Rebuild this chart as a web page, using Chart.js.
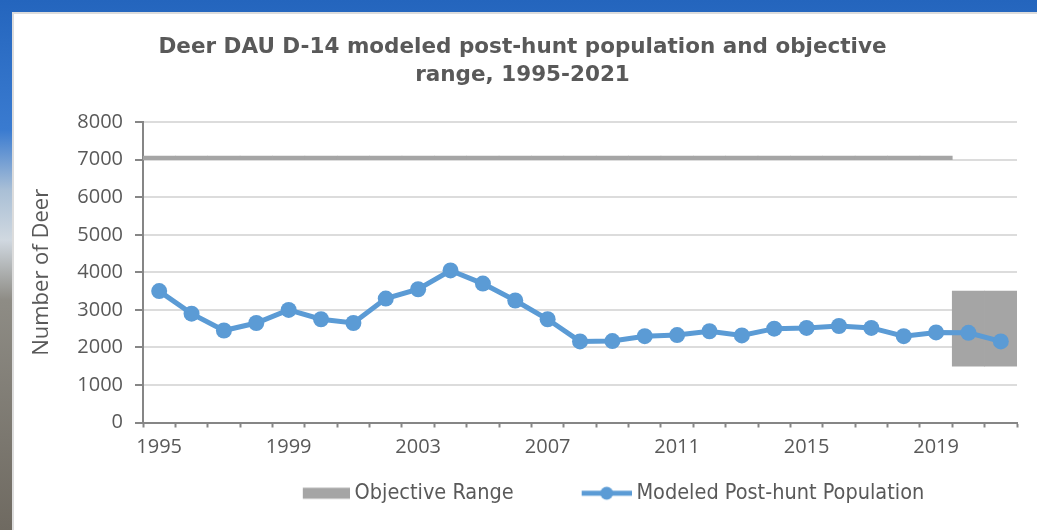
<!DOCTYPE html>
<html>
<head>
<meta charset="utf-8">
<script src="https://cdn.jsdelivr.net/npm/chart.js@4.4.1/dist/chart.umd.min.js"></script>
<style>
  html, body { margin: 0; padding: 0; }
  body {
    width: 1037px; height: 530px; overflow: hidden; position: relative;
    background: linear-gradient(to bottom, #2465bd 0, #3a7bd0 130px, #a9bfd6 190px, #d0d8e0 240px, #8e8c85 300px, #6f6a61 530px);
  }
  #panel {
    position: absolute; left: 12px; top: 12px; right: 0; bottom: 0;
    background: #fff; border-left: 2px solid #dcdcdc; border-top: 2px solid #dcdcdc;
  }
  #wrap { position: absolute; left: 28px; top: 0; width: 1009px; height: 530px; }
</style>
</head>
<body>
<div id="panel"></div>
<div id="wrap"><canvas id="deerChart" width="1009" height="530"></canvas></div>
<script>
const years = ['1995', '1996', '1997', '1998', '1999', '2000', '2001', '2002', '2003', '2004',
  '2005', '2006', '2007', '2008', '2009', '2010', '2011', '2012', '2013', '2014',
  '2015', '2016', '2017', '2018', '2019', '2020', '2021'];
const xTickLabels = ['1995', '1999', '2003', '2007', '2011', '2015', '2019'];
const yTicks = [0, 1000, 2000, 3000, 4000, 5000, 6000, 7000, 8000];

const population = [3500, 2900, 2450, 2650, 3000, 2750, 2650, 3300, 3550, 4050,
  3700, 3250, 2750, 2160, 2170, 2300, 2330, 2430, 2320, 2500,
  2520, 2570, 2520, 2300, 2400, 2390, 2160];

// objective range: low / high bound per year
const objectiveLow = [7000, 7000, 7000, 7000, 7000, 7000, 7000, 7000, 7000, 7000,
  7000, 7000, 7000, 7000, 7000, 7000, 7000, 7000, 7000, 7000,
  7000, 7000, 7000, 7000, 7000, 1500, 1500];
const objectiveHigh = [7100, 7100, 7100, 7100, 7100, 7100, 7100, 7100, 7100, 7100,
  7100, 7100, 7100, 7100, 7100, 7100, 7100, 7100, 7100, 7100,
  7100, 7100, 7100, 7100, 7100, 3500, 3500];

const BLUE = '#5b9bd5';
const GREY = '#a5a5a5';
const TEXT = '#595959';
const AXIS = '#868686';

// legend swatches (drawn at the right end so they sit close to the text)
function swatch(kind) {
  const c = document.createElement('canvas');
  c.width = 120; c.height = 16;
  const g = c.getContext('2d');
  if (kind === 'box') {
    g.fillStyle = GREY;
    g.fillRect(73, 2.5, 47, 11);
  } else {
    g.strokeStyle = BLUE; g.lineWidth = 5;
    g.beginPath(); g.moveTo(70, 8); g.lineTo(120, 8); g.stroke();
    g.fillStyle = BLUE;
    g.beginPath(); g.arc(95, 8, 6.5, 0, Math.PI * 2); g.fill();
  }
  return c;
}
const swatches = [swatch('box'), swatch('line')];

new Chart(document.getElementById('deerChart'), {
  data: {
    labels: years,
    datasets: [
      {
        type: 'bar', label: 'Objective Range', order: 1,
        data: objectiveLow.map((lo, i) => [lo, objectiveHigh[i]]),
        backgroundColor: GREY, barPercentage: 1, categoryPercentage: 1, borderWidth: 0
      },
      {
        type: 'line', label: 'Modeled Post-hunt Population', order: 0,
        data: population, borderColor: BLUE, borderWidth: 5, tension: 0,
        pointRadius: 8, pointHoverRadius: 8, pointBackgroundColor: BLUE, pointBorderWidth: 0
      }
    ]
  },
  options: {
    responsive: false, animation: false,
    layout: { padding: { left: 0, right: 20, top: 0, bottom: 16 } },
    plugins: {
      tooltip: { enabled: false },
      title: {
        display: true,
        text: ['Deer DAU D-14 modeled post-hunt population and objective', 'range, 1995-2021'],
        color: TEXT, font: { family: 'DejaVu Sans', size: 21.5, weight: 'bold', lineHeight: 1.33 },
        padding: { top: 33, bottom: 32 }
      },
      legend: {
        position: 'bottom', fullSize: false,
        labels: {
          usePointStyle: true, pointStyleWidth: 108, padding: 4,
          color: TEXT, font: { family: 'DejaVu Sans Condensed', size: 21.5 },
          sort: (a, b) => a.datasetIndex - b.datasetIndex,
          generateLabels: (chart) => Chart.defaults.plugins.legend.labels.generateLabels(chart)
            .map(item => ({ ...item, pointStyle: swatches[item.datasetIndex] }))
        }
      }
    },
    scales: {
      x: {
        offset: true,
        grid: { offset: true, drawOnChartArea: false, tickLength: 5, tickColor: AXIS, tickWidth: 2 },
        border: { color: AXIS, width: 2 },
        ticks: {
          autoSkip: false, maxRotation: 0, padding: 8, color: TEXT,
          font: { family: 'Open Sans', size: 20 },
          callback: function (value) {
            const lab = this.getLabelForValue(value);
            return xTickLabels.includes(lab) ? lab : '';
          }
        },
        afterFit: (scale) => { scale.height = 56; }
      },
      y: {
        min: yTicks[0], max: yTicks[yTicks.length - 1],
        grid: { color: '#dcdcdc', lineWidth: 2, tickLength: 8, tickColor: AXIS, tickWidth: 2 },
        border: { color: AXIS, width: 2 },
        ticks: {
          stepSize: 1000, padding: 12, color: TEXT,
          font: { family: 'Open Sans', size: 20 },
          callback: (v) => String(v)
        },
        title: {
          display: true, text: 'Number of Deer', color: TEXT,
          font: { family: 'Open Sans', size: 22 }, padding: { top: 1, bottom: 0 }
        },
        afterFit: (scale) => { scale.width = 115; }
      }
    }
  }
});
</script>
</body>
</html>
